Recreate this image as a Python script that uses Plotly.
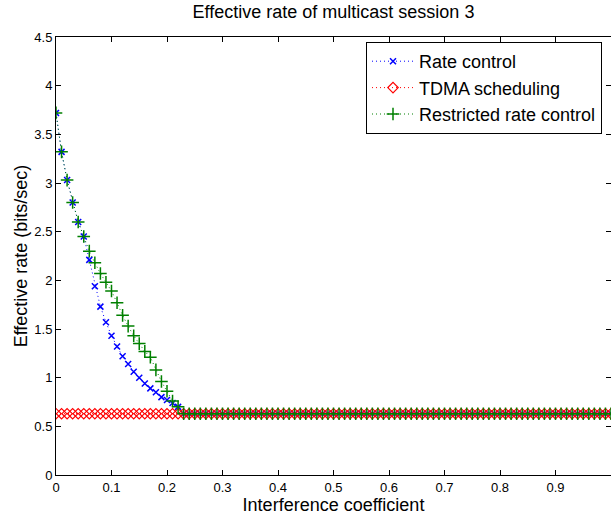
import plotly.graph_objects as go

# Interference coefficient, 0 to 1 in steps of 0.01 (101 points)
x_vals = [i / 100 for i in range(101)]

rate_control = [
    3.72, 3.32, 3.03, 2.80, 2.60, 2.45, 2.21, 1.94, 1.73, 1.57,
    1.43, 1.32, 1.22, 1.14, 1.06, 1.00, 0.94, 0.89, 0.85, 0.80,
    0.77, 0.74, 0.70, 0.63, 0.63, 0.63, 0.63, 0.63, 0.63, 0.63,
    0.63, 0.63, 0.63, 0.63, 0.63, 0.63, 0.63, 0.63, 0.63, 0.63,
    0.63, 0.63, 0.63, 0.63, 0.63, 0.63, 0.63, 0.63, 0.63, 0.63,
    0.63, 0.63, 0.63, 0.63, 0.63, 0.63, 0.63, 0.63, 0.63, 0.63,
    0.63, 0.63, 0.63, 0.63, 0.63, 0.63, 0.63, 0.63, 0.63, 0.63,
    0.63, 0.63, 0.63, 0.63, 0.63, 0.63, 0.63, 0.63, 0.63, 0.63,
    0.63, 0.63, 0.63, 0.63, 0.63, 0.63, 0.63, 0.63, 0.63, 0.63,
    0.63, 0.63, 0.63, 0.63, 0.63, 0.63, 0.63, 0.63, 0.63, 0.63,
    0.63,
]

tdma_scheduling = [
    0.63, 0.63, 0.63, 0.63, 0.63, 0.63, 0.63, 0.63, 0.63, 0.63,
    0.63, 0.63, 0.63, 0.63, 0.63, 0.63, 0.63, 0.63, 0.63, 0.63,
    0.63, 0.63, 0.63, 0.63, 0.63, 0.63, 0.63, 0.63, 0.63, 0.63,
    0.63, 0.63, 0.63, 0.63, 0.63, 0.63, 0.63, 0.63, 0.63, 0.63,
    0.63, 0.63, 0.63, 0.63, 0.63, 0.63, 0.63, 0.63, 0.63, 0.63,
    0.63, 0.63, 0.63, 0.63, 0.63, 0.63, 0.63, 0.63, 0.63, 0.63,
    0.63, 0.63, 0.63, 0.63, 0.63, 0.63, 0.63, 0.63, 0.63, 0.63,
    0.63, 0.63, 0.63, 0.63, 0.63, 0.63, 0.63, 0.63, 0.63, 0.63,
    0.63, 0.63, 0.63, 0.63, 0.63, 0.63, 0.63, 0.63, 0.63, 0.63,
    0.63, 0.63, 0.63, 0.63, 0.63, 0.63, 0.63, 0.63, 0.63, 0.63,
    0.63,
]

restricted_rate_control = [
    3.72, 3.32, 3.03, 2.80, 2.60, 2.45, 2.30, 2.18, 2.07, 1.98,
    1.89, 1.77, 1.64, 1.53, 1.43, 1.35, 1.27, 1.21, 1.08, 0.96,
    0.86, 0.76, 0.70, 0.63, 0.63, 0.63, 0.63, 0.63, 0.63, 0.63,
    0.63, 0.63, 0.63, 0.63, 0.63, 0.63, 0.63, 0.63, 0.63, 0.63,
    0.63, 0.63, 0.63, 0.63, 0.63, 0.63, 0.63, 0.63, 0.63, 0.63,
    0.63, 0.63, 0.63, 0.63, 0.63, 0.63, 0.63, 0.63, 0.63, 0.63,
    0.63, 0.63, 0.63, 0.63, 0.63, 0.63, 0.63, 0.63, 0.63, 0.63,
    0.63, 0.63, 0.63, 0.63, 0.63, 0.63, 0.63, 0.63, 0.63, 0.63,
    0.63, 0.63, 0.63, 0.63, 0.63, 0.63, 0.63, 0.63, 0.63, 0.63,
    0.63, 0.63, 0.63, 0.63, 0.63, 0.63, 0.63, 0.63, 0.63, 0.63,
    0.63,
]

x_ticks = [0, 0.1, 0.2, 0.3, 0.4, 0.5, 0.6, 0.7, 0.8, 0.9, 1]
y_ticks = [0, 0.5, 1, 1.5, 2, 2.5, 3, 3.5, 4, 4.5]

FONT = "Liberation Sans, Arial, sans-serif"
DOTS = "1px,3px"

fig = go.Figure()
fig.add_trace(go.Scatter(
    x=x_vals, y=rate_control, name="Rate control", mode="lines+markers",
    line=dict(color="#0000FF", width=1, dash=DOTS),
    marker=dict(symbol="x-thin-open", size=6, color="#0000FF",
                line=dict(color="#0000FF", width=1.5)),
))
fig.add_trace(go.Scatter(
    x=x_vals, y=tdma_scheduling, name="TDMA scheduling", mode="lines+markers",
    line=dict(color="#FF0000", width=1, dash=DOTS),
    marker=dict(symbol="diamond-open", size=8, color="#FF0000",
                line=dict(color="#FF0000", width=1.2)),
))
fig.add_trace(go.Scatter(
    x=x_vals, y=restricted_rate_control, name="Restricted rate control",
    mode="lines+markers",
    line=dict(color="#008000", width=1, dash=DOTS),
    marker=dict(symbol="cross-thin-open", size=9, color="#008000",
                line=dict(color="#008000", width=1.5)),
))

axis_common = dict(
    showline=True, linecolor="black", linewidth=1, mirror="ticks",
    ticks="inside", ticklen=5, tickcolor="black", tickwidth=1,
    showgrid=False, zeroline=False, automargin=False,
    tickfont=dict(family=FONT, size=13, color="black"),
)

fig.update_layout(
    width=611, height=515,
    margin=dict(l=56, r=0, t=37, b=40),
    paper_bgcolor="white", plot_bgcolor="white",
    font=dict(family=FONT, color="black"),
    title=dict(text="Effective rate of multicast session 3", x=0.5, xref="paper",
               xanchor="center", y=1 - 12 / 515, yanchor="middle",
               font=dict(family=FONT, size=18, color="black")),
    xaxis=dict(range=[0, 1], tickvals=x_ticks, ticktext=[str(t) for t in x_ticks],
               title=dict(text="Interference coefficient", standoff=1,
                          font=dict(family=FONT, size=18, color="black")),
               **axis_common),
    yaxis=dict(range=[0, 4.5], tickvals=y_ticks, ticktext=[str(t) for t in y_ticks],
               title=dict(text="Effective rate (bits/sec)", standoff=2,
                          font=dict(family=FONT, size=18, color="black")),
               **axis_common),
    legend=dict(x=(366 - 56) / 555, y=(475 - 42) / 438, xanchor="left", yanchor="top",
                bgcolor="white", bordercolor="black", borderwidth=1,
                font=dict(family=FONT, size=18, color="black"),
                tracegroupgap=0, itemwidth=42),
    showlegend=True,
)

fig.write_html("out.html", config={"displayModeBar": False},
               post_script="document.body.style.margin='0';document.body.style.padding='0';")
